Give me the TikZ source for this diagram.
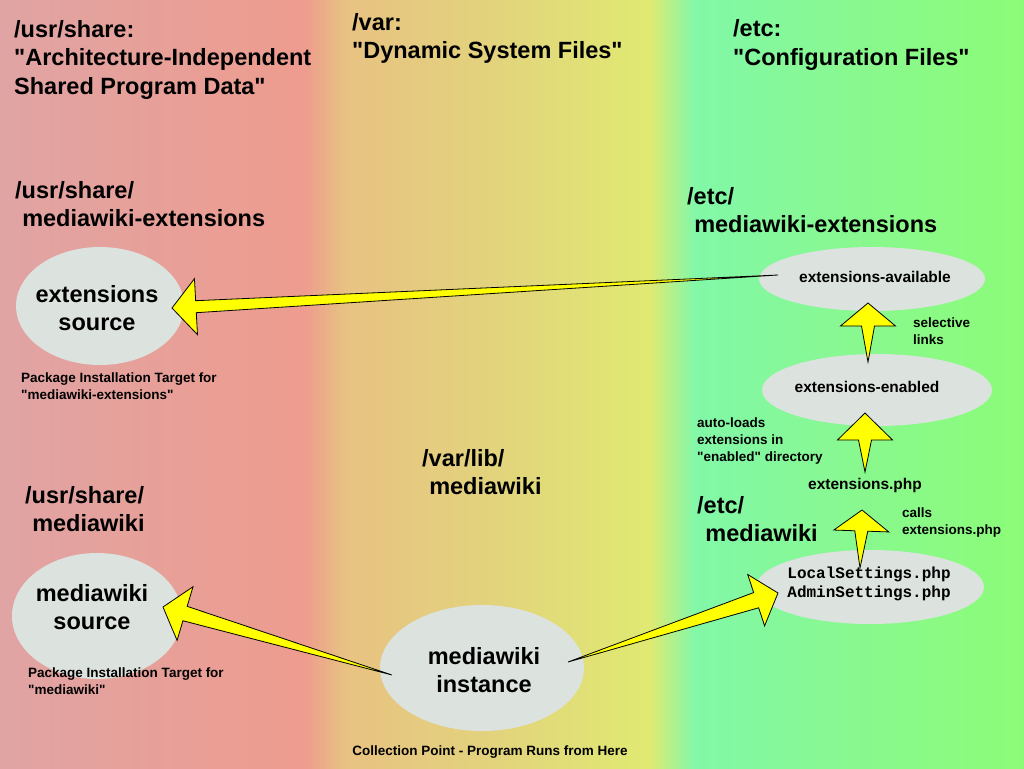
\documentclass[tikz,border=0pt]{standalone}
\usepackage{fontspec}
\setmainfont{Liberation Sans}[Ligatures=TeXOff]
\setmonofont{Liberation Mono}[Ligatures=TeXOff]
\usetikzlibrary{shapes.geometric,calc}
\definecolor{bgA}{HTML}{E0A4A4}
\definecolor{bgB}{HTML}{EE9C8E}
\definecolor{bgC}{HTML}{E8C282}
\definecolor{bgD}{HTML}{E2D47C}
\definecolor{bgE}{HTML}{E0EA72}
\definecolor{bgF}{HTML}{82F8A8}
\definecolor{bgG}{HTML}{88F890}
\definecolor{bgH}{HTML}{8CFC78}
\definecolor{blobfill}{HTML}{DCE2DE}
\definecolor{arrowyellow}{HTML}{FFFF00}
\tikzset{
  blob/.style={ellipse, fill=blobfill, draw=none, inner sep=0pt},
  bigtxt/.style={font=\fontsize{23.5}{28.5}\selectfont\bfseries, inner sep=0pt},
  midtxt/.style={font=\fontsize{15.5}{19}\selectfont\bfseries, inner sep=0pt},
  smalltxt/.style={font=\fontsize{13.5}{17}\selectfont\bfseries, inner sep=0pt, align=left},
  monotxt/.style={font=\fontsize{16}{19}\selectfont\ttfamily\bfseries, inner sep=0pt, align=center},
  fatarrow/.style={fill=arrowyellow, draw=black, line width=0.8pt, line join=miter}
}
% start, tip, head length, head half width, shaft half width
\newcommand{\taperarrow}[5]{%
  \path ($(#2)!#3!(#1)$) coordinate (tb);
  \filldraw[fatarrow] (#1) -- ($(tb)!#5!90:(#2)$) -- ($(tb)!#4!90:(#2)$) -- (#2)
    -- ($(tb)!#4!-90:(#2)$) -- ($(tb)!#5!-90:(#2)$) -- cycle;
}
\begin{document}
\begin{tikzpicture}[x=1pt,y=-1pt]
\useasboundingbox (0,0) rectangle (1024,768);
% background gradient
\shade[left color=bgA, right color=bgB] (0,0) rectangle (305,768);
\shade[left color=bgB, right color=bgC] (304.5,0) rectangle (345,768);
\shade[left color=bgC, right color=bgD] (344.5,0) rectangle (500,768);
\shade[left color=bgD, right color=bgE] (499.5,0) rectangle (650,768);
\shade[left color=bgE, right color=bgF] (649.5,0) rectangle (695,768);
\shade[left color=bgF, right color=bgG] (694.5,0) rectangle (850,768);
\shade[left color=bgG, right color=bgH] (849.5,0) rectangle (1024,768);

% ellipses
\node[blob, minimum width=168, minimum height=118] (extsrc) at (100,306) {};
\node[blob, minimum width=170, minimum height=126] (mwsrc) at (97,616) {};
\node[blob, minimum width=204, minimum height=126] (inst) at (482,668) {};
\node[blob, minimum width=226, minimum height=64] (avail) at (872,279) {};
\node[blob, minimum width=230, minimum height=72] (enabled) at (877,390) {};
\node[blob, minimum width=228, minimum height=74] (local) at (870,587) {};
\node[midtxt, anchor=base] (extphp) at (865,489) {extensions.php};

% connector end points
\coordinate (a1s) at ($(avail.center)+(-94,-4)$);
\coordinate (a1t) at ($(extsrc.center)+(72,2)$);
\coordinate (a2s) at ($(inst.center)+(-90,7)$);
\coordinate (a2t) at ($(mwsrc.center)+(66,-9)$);
\coordinate (a3s) at ($(inst.center)+(86,-6)$);
\coordinate (a3t) at ($(local.center)+(-92,6)$);
\coordinate (a4s) at ($(enabled.center)+(-9,-28)$);
\coordinate (a4t) at ($(avail.center)+(-4,24)$);
\coordinate (a5s) at ($(extphp.base)+(0,-17)$);
\coordinate (a5t) at ($(enabled.center)+(-12,23)$);
\coordinate (a6s) at ($(local.center)+(-10,-19)$);
\coordinate (a6t) at ($(extphp.base)+(-3,21)$);

% tapered arrows
\taperarrow{a1s}{a1t}{24pt}{28pt}{6pt}
\taperarrow{a2s}{a2t}{23pt}{28pt}{7.5pt}
\taperarrow{a3s}{a3t}{23pt}{27pt}{8pt}
\taperarrow{a4s}{a4t}{23pt}{27.5pt}{6.5pt}
\taperarrow{a5s}{a5t}{27pt}{27.5pt}{6.5pt}
\taperarrow{a6s}{a6t}{21pt}{27.5pt}{6.5pt}

% ellipse texts
\node[bigtxt, align=center] (extsrcT) at (97,308) {extensions\\source};
\node[bigtxt, align=center] (mwsrcT) at (92,607) {mediawiki\\source};
\node[bigtxt, align=center] (instT) at (484,670) {mediawiki\\instance};
\node[midtxt, anchor=base] (availT) at (875,282) {extensions-available};
\node[midtxt, anchor=base] (enabledT) at (867,392) {extensions-enabled};
\node[monotxt] (localT) at (869,584) {LocalSettings.php\\AdminSettings.php};

% titles (anchor = baseline of last line)
\node[bigtxt, align=left, anchor=base west] (tUsr) at (14,94) {/usr/share:\\"Architecture-Independent\\Shared Program Data"};
\node[bigtxt, align=left, anchor=base west] (tVar) at (352,59) {/var:\\"Dynamic System Files"};
\node[bigtxt, align=left, anchor=base west] (tEtc) at (733,65.5) {/etc:\\"Configuration Files"};

% directory labels
\node[bigtxt, align=left, anchor=base west] (lUsrExt) at (15,226.5) {/usr/share/\\\hspace*{0.3em}mediawiki-extensions};
\node[bigtxt, align=left, anchor=base west] (lEtcExt) at (687,232.5) {/etc/\\\hspace*{0.3em}mediawiki-extensions};
\node[bigtxt, align=left, anchor=base west] (lUsrMw) at (25,531.5) {/usr/share/\\\hspace*{0.3em}mediawiki};
\node[bigtxt, align=left, anchor=base west] (lVarLib) at (422,494.5) {/var/lib/\\\hspace*{0.3em}mediawiki};
\node[bigtxt, align=left, anchor=base west] (lEtcMw) at (697,541.5) {/etc/\\\hspace*{0.35em}mediawiki};

% small notes
\node[smalltxt, anchor=base west] (pkg1) at (21,399) {Package Installation Target for\\"mediawiki-extensions"};
\node[smalltxt, anchor=base west] (pkg2) at (28,694) {Package Installation Target for\\"mediawiki"};
\node[smalltxt, anchor=base west] (sel) at (913,344) {selective\\links};
\node[smalltxt, anchor=base west] (auto) at (697,461) {auto-loads\\extensions in\\"enabled" directory};
\node[smalltxt, anchor=base west] (calls) at (902,534) {calls\\extensions.php};
\node[smalltxt, anchor=base] (coll) at (490,755) {Collection Point - Program Runs from Here};
\end{tikzpicture}
\end{document}
